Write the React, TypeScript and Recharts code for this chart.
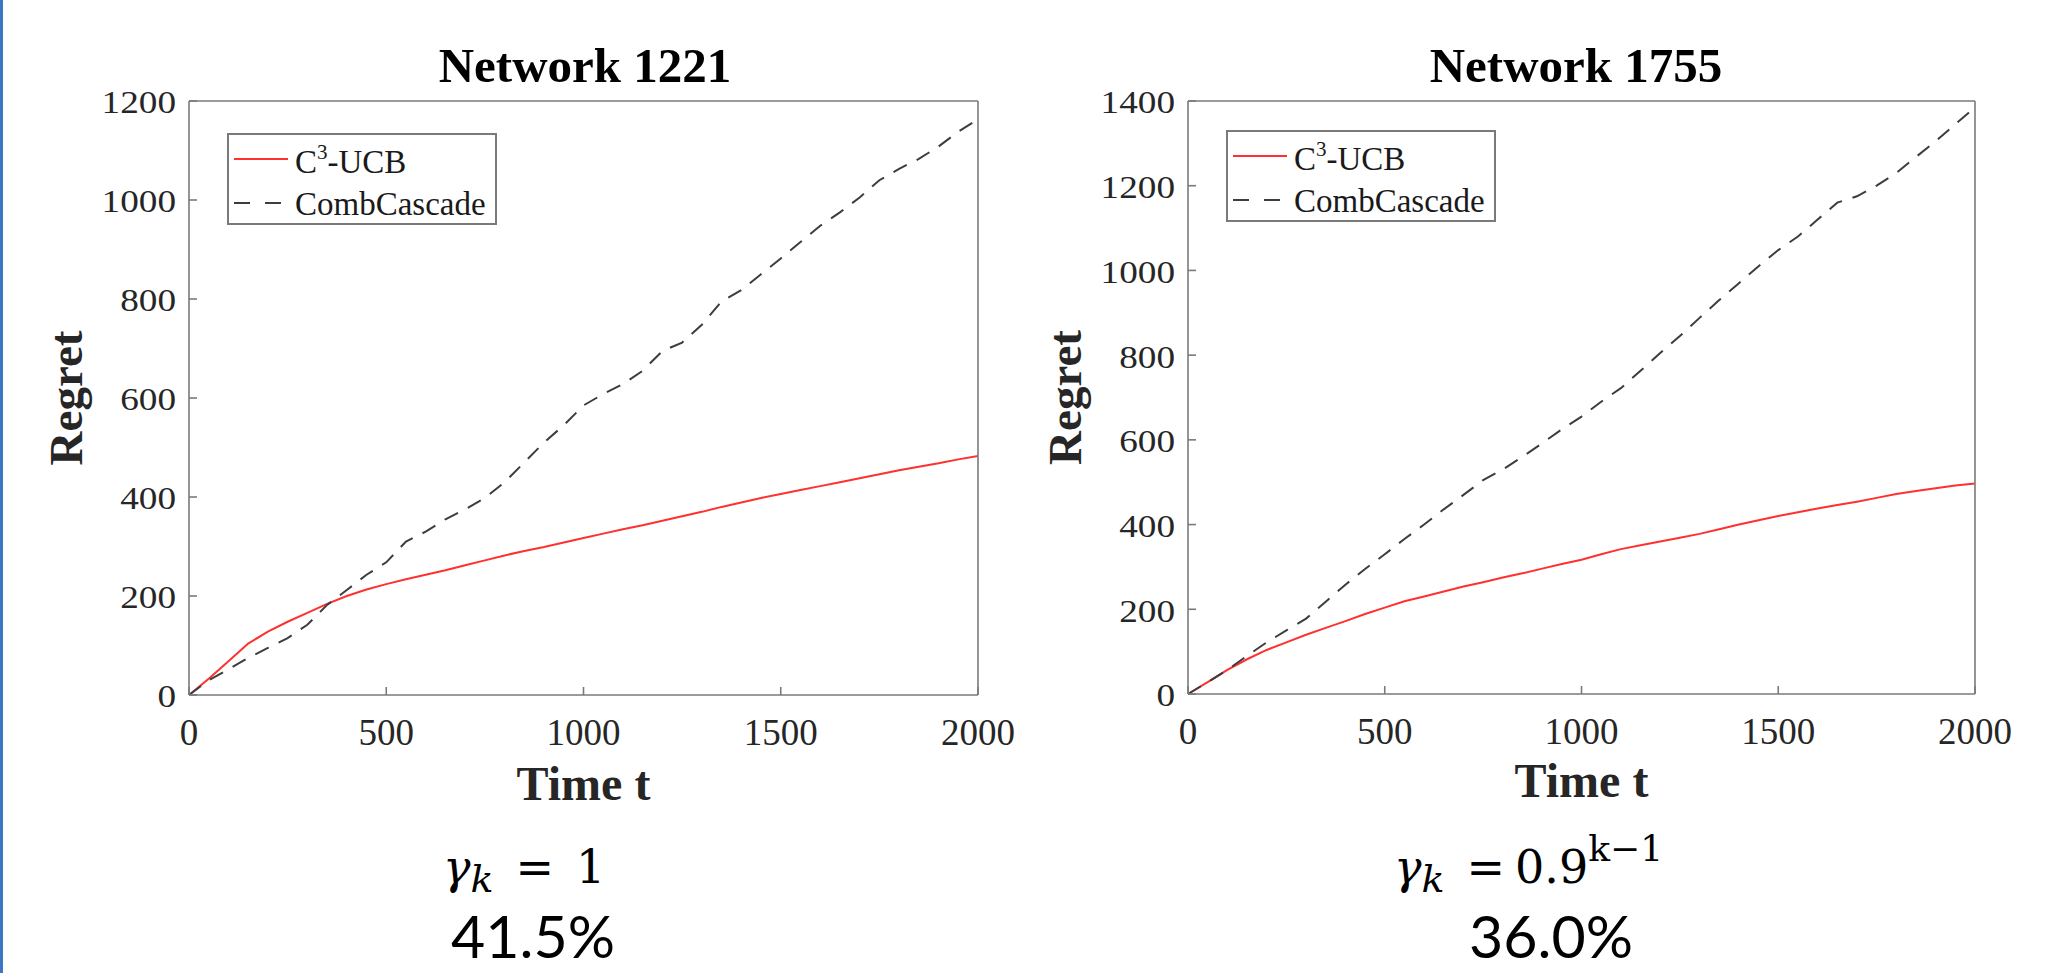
import { LineChart, Line, XAxis, YAxis, Legend, Label } from "recharts";

const SERIF = '"Liberation Serif", "Times New Roman", serif';
const MATH = '"DejaVu Serif", serif';
const AXIS = "#7a7a7a";
const INK = "#262626";
const RED = "#ff3030";
const DASH = "#3d3d3d";

// time steps (x)
const time = [
  0, 50, 100, 150, 200, 250, 300, 350, 400, 450, 500, 550, 600, 650, 700, 750, 800, 850, 900, 950, 1000,
  1050, 1100, 1150, 1200, 1250, 1300, 1350, 1400, 1450, 1500, 1550, 1600, 1650, 1700, 1750, 1800, 1850, 1900, 1950, 2000,
];

// Network 1221
const ucb1221 = [
  0, 33, 68, 104, 128, 148, 166, 184, 200, 213, 224, 234, 243, 252, 262, 272, 282, 291, 299, 308, 317,
  326, 335, 343, 352, 361, 370, 380, 389, 398, 406, 414, 422, 430, 438, 446, 454, 461, 468, 476, 483,
];
const comb1221 = [
  0, 30, 52, 75, 95, 115, 142, 182, 212, 243, 268, 310, 330, 355, 375, 398, 430, 470, 510, 545, 585,
  608, 628, 655, 695, 712, 748, 795, 818, 850, 882, 915, 948, 975, 1005, 1040, 1063, 1083, 1108, 1138, 1163,
];

// Network 1755
const ucb1755 = [
  0, 28, 57, 82, 104, 122, 140, 156, 172, 189, 204, 219, 230, 242, 254, 264, 275, 285, 296, 307, 317,
  330, 342, 351, 360, 369, 378, 389, 400, 410, 420, 429, 438, 446, 454, 463, 472, 479, 486, 492, 497,
];
const comb1755 = [
  0, 28, 57, 90, 122, 150, 178, 218, 258, 295, 330, 366, 400, 436, 470, 505, 530, 560, 592, 625, 655,
  690, 722, 763, 805, 845, 888, 930, 970, 1010, 1048, 1080, 1120, 1160, 1175, 1200, 1230, 1268, 1305, 1345, 1385,
];

const xTicks = [0, 500, 1000, 1500, 2000];
const yTicks1221 = [0, 200, 400, 600, 800, 1000, 1200];
const yTicks1755 = [0, 200, 400, 600, 800, 1000, 1200, 1400];

const rows = (a: number[], b: number[]) => time.map((t, i) => ({ t, ucb: a[i], comb: b[i] }));

function YTick(props: any) {
  const { x, y, payload } = props;
  return (
    <text
      transform={`translate(${x},${y}) scale(1.2,1)`}
      textAnchor="end"
      dy="0.4em"
      fontSize={31}
      fontFamily={SERIF}
      fill={INK}
    >
      {payload.value}
    </text>
  );
}

function LegendBox() {
  return (
    <svg width={270} height={92} style={{ display: "block" }}>
      <rect x={1} y={1} width={268} height={90} fill="#fff" stroke={AXIS} strokeWidth={2} />
      <line x1={7} x2={61} y1={26} y2={26} stroke={RED} strokeWidth={2} />
      <line x1={7} x2={55} y1={70} y2={70} stroke={DASH} strokeWidth={2} strokeDasharray="16 15" />
      <text x={68} y={40} fontFamily={SERIF} fontSize={33} fill="#1a1a1a">
        C<tspan fontSize={21} dy={-14}>3</tspan>
        <tspan dy={14}>-UCB</tspan>
      </text>
      <text x={68} y={82} fontFamily={SERIF} fontSize={33} fill="#1a1a1a">
        CombCascade
      </text>
    </svg>
  );
}

type PanelProps = {
  left: number;
  width: number;
  yAxisWidth: number;
  plotRight: number;
  plotBottom: number;
  yMax: number;
  yTicks: number[];
  data: { t: number; ucb: number; comb: number }[];
  regretX: number;
  xLabelOffset: number;
  legendLeft: number;
  legendTop: number;
};

function Panel(p: PanelProps) {
  const height = 810;
  const midY = (101 + p.plotBottom) / 2;
  return (
    <div style={{ position: "absolute", left: p.left, top: 0, width: p.width, height }}>
      <LineChart
        width={p.width}
        height={height}
        data={p.data}
        margin={{ top: 101, right: p.width - p.plotRight, bottom: 0, left: 0 }}
      >
        <XAxis
          dataKey="t"
          type="number"
          domain={[0, 2000]}
          ticks={xTicks}
          interval={0}
          height={height - p.plotBottom}
          tickSize={-8}
          tickMargin={32}
          stroke={AXIS}
          strokeWidth={1.6}
          tick={{ fontSize: 37, fill: INK, fontFamily: SERIF }}
        >
          <Label
            value="Time t"
            position="insideBottom"
            offset={p.xLabelOffset}
            style={{ fontSize: 48, fontWeight: 700, fontFamily: SERIF, fill: INK }}
          />
        </XAxis>
        <XAxis
          xAxisId="top"
          orientation="top"
          mirror
          type="number"
          domain={[0, 2000]}
          ticks={xTicks}
          interval={0}
          tick={false}
          tickSize={8}
          stroke={AXIS}
          strokeWidth={1.6}
        />
        <YAxis
          type="number"
          domain={[0, p.yMax]}
          ticks={p.yTicks}
          interval={0}
          width={p.yAxisWidth}
          tickSize={-8}
          tickMargin={21}
          stroke={AXIS}
          strokeWidth={1.6}
          tick={<YTick />}
        >
          <Label
            content={() => (
              <text
                x={p.regretX}
                y={midY}
                transform={`rotate(-90 ${p.regretX} ${midY})`}
                textAnchor="middle"
                fontSize={47}
                fontWeight={700}
                fontFamily={SERIF}
                fill={INK}
              >
                Regret
              </text>
            )}
          />
        </YAxis>
        <YAxis
          yAxisId="right"
          orientation="right"
          mirror
          type="number"
          domain={[0, p.yMax]}
          ticks={p.yTicks}
          interval={0}
          tick={false}
          tickSize={8}
          stroke={AXIS}
          strokeWidth={1.6}
        />
        <Legend
          layout="horizontal"
          verticalAlign="middle"
          align="center"
          wrapperStyle={{ left: p.legendLeft, top: p.legendTop, width: 270, height: 92 }}
          content={() => <LegendBox />}
        />
        <Line
          type="linear"
          dataKey="ucb"
          name="C3-UCB"
          stroke={RED}
          strokeWidth={2}
          dot={false}
          isAnimationActive={false}
        />
        <Line
          type="linear"
          dataKey="comb"
          name="CombCascade"
          stroke={DASH}
          strokeWidth={2}
          strokeDasharray="15 11"
          dot={false}
          isAnimationActive={false}
        />
      </LineChart>
    </div>
  );
}

export default function App() {
  return (
    <div
      style={{
        position: "absolute",
        left: 0,
        top: 0,
        width: 2068,
        height: 973,
        background: "#fff",
        overflow: "hidden",
      }}
    >
      <div style={{ position: "absolute", left: 0, top: 0, width: 3, height: 973, background: "#3b78c4" }} />
      <Panel
        left={0}
        width={1030}
        yAxisWidth={189}
        plotRight={978}
        plotBottom={695}
        yMax={1200}
        yTicks={yTicks1221}
        data={rows(ucb1221, comb1221)}
        regretX={82}
        xLabelOffset={10}
        legendLeft={227}
        legendTop={133}
      />
      <Panel
        left={1030}
        width={1038}
        yAxisWidth={158}
        plotRight={945}
        plotBottom={694}
        yMax={1400}
        yTicks={yTicks1755}
        data={rows(ucb1755, comb1755)}
        regretX={51}
        xLabelOffset={13}
        legendLeft={196}
        legendTop={130}
      />
      <svg
        width={2068}
        height={973}
        style={{ position: "absolute", left: 0, top: 0, pointerEvents: "none" }}
      >
        <text x={585} y={82} textAnchor="middle" fontFamily={SERIF} fontSize={49} fontWeight={700} fill="#000">
          Network 1221
        </text>
        <text x={1576} y={82} textAnchor="middle" fontFamily={SERIF} fontSize={49} fontWeight={700} fill="#000">
          Network 1755
        </text>

        <text x={443} y={883} fontFamily={MATH} fontSize={46} fill="#000">
          <tspan fontStyle="italic">γ</tspan>
          <tspan fontStyle="italic" fontSize={38} dy={9}>k</tspan>
          <tspan dy={-9} dx={22}>=</tspan>
          <tspan dx={22}>1</tspan>
        </text>
        <text x={533} y={958} textAnchor="middle" fontFamily="Lato, sans-serif" fontSize={59} fill="#000">
          41.5%
        </text>

        <text x={1394} y={883} fontFamily={MATH} fontSize={46} fill="#000">
          <tspan fontStyle="italic">γ</tspan>
          <tspan fontStyle="italic" fontSize={38} dy={9}>k</tspan>
          <tspan dy={-9} dx={22}>=</tspan>
          <tspan dx={10}>0.9</tspan>
          <tspan fontSize={36} dy={-22}>k−1</tspan>
        </text>
        <text x={1551} y={958} textAnchor="middle" fontFamily="Lato, sans-serif" fontSize={59} fill="#000">
          36.0%
        </text>
      </svg>
    </div>
  );
}
